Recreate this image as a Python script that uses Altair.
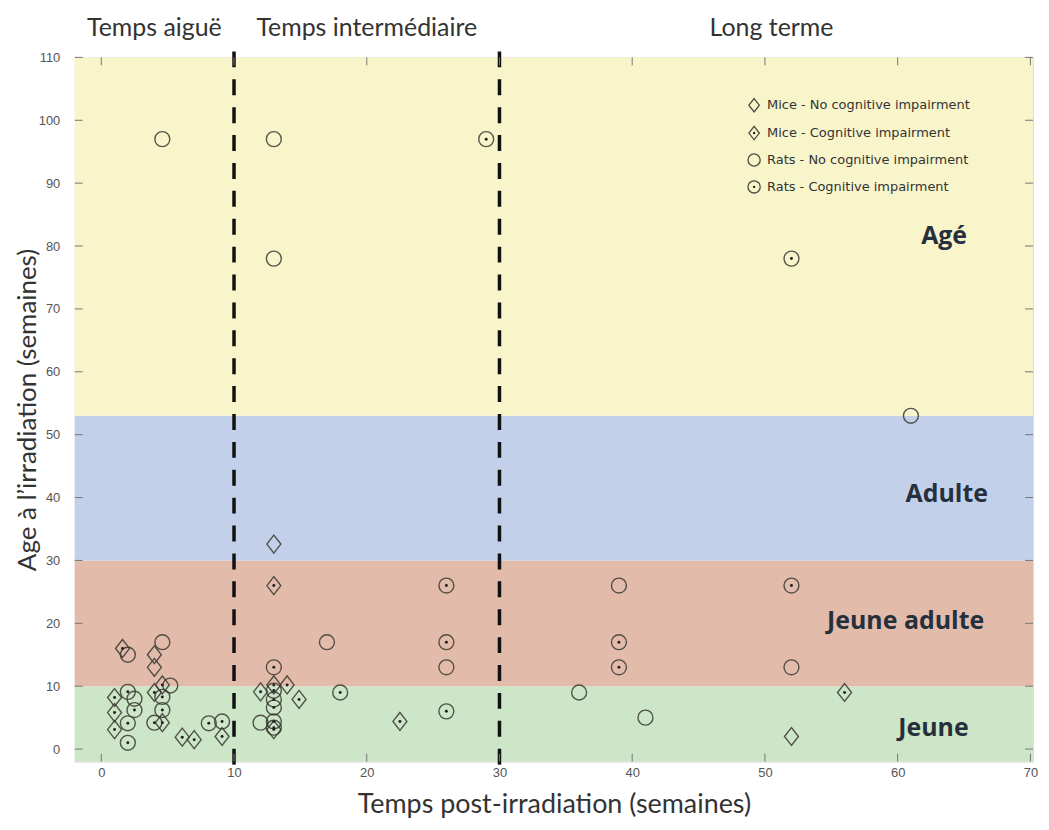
import altair as alt
import pandas as pd

# ---------------- data ----------------
# Rats - No cognitive impairment (plain circle)
rats_no_x = [4.6, 13, 13, 61, 17, 12, 26, 36, 39, 41, 52, 2.0, 4.6, 5.2, 2.5]
rats_no_y = [97, 97, 78, 53, 17, 4.2, 13, 9, 26, 5, 13, 15, 17, 10.1, 8.0]
# Rats - Cognitive impairment (circle with dot)
rats_ci_x = [29, 52, 13, 13, 13, 13, 13, 13, 18, 26, 26, 26, 39, 39, 52,
             2.0, 2.5, 2.0, 2.0, 4.6, 4.6, 4.0, 8.1, 9.1]
rats_ci_y = [97, 78, 13, 9.3, 7.9, 6.6, 4.4, 3.4, 9, 26, 17, 6, 17, 13, 26,
             9.1, 6.2, 4.1, 1.0, 8.3, 6.2, 4.2, 4.1, 4.4]
# Mice - No cognitive impairment (plain diamond)
mice_no_x = [13, 52, 4.0, 4.0]
mice_no_y = [32.6, 2, 15, 13]
# Mice - Cognitive impairment (diamond with dot)
mice_ci_x = [13, 12, 13, 14, 14.9, 13, 22.5, 56, 1.6, 4.6, 4.0, 1.0, 1.0, 1.0, 4.6, 6.1, 7.0, 9.1]
mice_ci_y = [26, 9.1, 10.2, 10.2, 7.9, 3.1, 4.4, 9, 16, 10.2, 9.0, 8.2, 5.8, 3.1, 4.2, 1.9, 1.5, 2.0]

# age bands
band_names = ["Jeune", "Jeune adulte", "Adulte", "Agé"]
band_lo = [-2, 10, 30, 53]
band_hi = [10, 30, 53, 110]
band_colors = ["#cde6c8", "#e2bbab", "#c3d0ea", "#f9f5cb"]
band_label_x = [62.7, 60.6, 63.7, 63.5]
band_label_y = [3.4, 20.3, 40.6, 81.6]

# time periods
period_names = ["Temps aiguë", "Temps intermédiaire", "Long terme"]
period_start = [-2, 10, 30]
period_end = [10, 30, 71]
period_bounds = [10, 30]

legend_labels = ["Mice - No cognitive impairment", "Mice - Cognitive impairment",
                 "Rats - No cognitive impairment", "Rats - Cognitive impairment"]
legend_species = ["mice", "mice", "rats", "rats"]
legend_impaired = [False, True, False, True]

x_ticks = [0, 10, 20, 30, 40, 50, 60, 70]
y_ticks = [0, 10, 20, 30, 40, 50, 60, 70, 80, 90, 100, 110]

# ---------------- tables ----------------
pts = pd.concat([
    pd.DataFrame({"x": rats_no_x, "y": rats_no_y, "species": "rats", "impaired": False}),
    pd.DataFrame({"x": rats_ci_x, "y": rats_ci_y, "species": "rats", "impaired": True}),
    pd.DataFrame({"x": mice_no_x, "y": mice_no_y, "species": "mice", "impaired": False}),
    pd.DataFrame({"x": mice_ci_x, "y": mice_ci_y, "species": "mice", "impaired": True}),
], ignore_index=True)

bands = pd.DataFrame({"name": band_names, "lo": band_lo, "hi": band_hi,
                      "color": band_colors, "lx": band_label_x, "ly": band_label_y})
periods = pd.DataFrame({"name": period_names,
                        "mid": [(a + b) / 2 for a, b in zip(period_start, period_end)]})
bounds = pd.DataFrame({"x": period_bounds})
xt = pd.DataFrame({"v": x_ticks})
yt = pd.DataFrame({"v": y_ticks})

W, H = 962, 707
DIAMOND = "M-0.78,0L0,-1L0.78,0L0,1Z"
STROKE = "#3a3a34"
TXT_FONT = "Lato"

xscale = alt.Scale(domain=[-2, 70.2], nice=False, zero=False)
yscale = alt.Scale(domain=[-2, 110], nice=False, zero=False)
xaxis = alt.Axis(title="Temps post-irradiation (semaines)", values=x_ticks, grid=False,
                 domain=False, ticks=False, labelPadding=5, labelFont="Liberation Sans",
                 labelFontSize=13, labelColor="#555", titleFont=TXT_FONT, titleFontSize=27,
                 titleFontWeight="normal", titleColor="#333", titleY=43,
                 titleBaseline="middle")
yaxis = alt.Axis(title="Age à l’irradiation (semaines)", values=y_ticks, grid=False,
                 domain=False, ticks=False, labelPadding=15, labelFont="Liberation Sans",
                 labelFontSize=13, labelColor="#555", titleFont=TXT_FONT, titleFontSize=26,
                 titleFontWeight="normal", titleColor="#333", titleAngle=-90,
                 titleX=-47, titleY=H / 2, titleBaseline="middle", titleAlign="center")


def X(f):
    return alt.X(f, scale=xscale, axis=xaxis)


def Y(f):
    return alt.Y(f, scale=yscale, axis=yaxis)


band_rects = alt.Chart(bands).mark_rect(stroke=None).encode(
    x=alt.value(0), x2=alt.value(W), y=Y("lo:Q"), y2="hi:Q",
    color=alt.Color("color:N", scale=None))

band_text = alt.Chart(bands).mark_text(font="Open Sans", fontWeight="bold", fontSize=25,
                                       color="#26303c", baseline="middle").encode(
    x=X("lx:Q"), y=Y("ly:Q"), text="name:N")

dash = alt.Chart(bounds).mark_rule(strokeDash=[16, 12], strokeWidth=3.5, color="#111").encode(
    x=X("x:Q"), y=alt.value(-6), y2=alt.value(H + 8))

top_text = alt.Chart(periods).mark_text(font=TXT_FONT, fontSize=25, color="#333",
                                        baseline="middle").encode(
    x=X("mid:Q"), y=alt.value(-29), text="name:N")

diamonds = alt.Chart(pts).transform_filter(alt.datum.species == "mice").mark_point(
    shape=DIAMOND, size=324, filled=False, stroke=STROKE, strokeWidth=1.4, opacity=0.85).encode(
    x=X("x:Q"), y=Y("y:Q"))
circles = alt.Chart(pts).transform_filter(alt.datum.species == "rats").mark_point(
    shape="circle", size=225, filled=False, stroke=STROKE, strokeWidth=1.4, opacity=0.85).encode(
    x=X("x:Q"), y=Y("y:Q"))
dots = alt.Chart(pts).transform_filter(alt.datum.impaired).mark_point(
    shape="circle", size=9, filled=True, color="#222", opacity=1).encode(
    x=X("x:Q"), y=Y("y:Q"))

tick_style = dict(color="#777", strokeWidth=1)
ticks_bottom = alt.Chart(xt).mark_rule(**tick_style).encode(
    x=X("v:Q"), y=alt.value(H), y2=alt.value(H - 8))
ticks_top = alt.Chart(xt).mark_rule(**tick_style).encode(
    x=X("v:Q"), y=alt.value(0), y2=alt.value(8))
ticks_left = alt.Chart(yt).mark_rule(**tick_style).encode(
    y=Y("v:Q"), x=alt.value(0), x2=alt.value(8))
ticks_right = alt.Chart(yt).mark_rule(**tick_style).encode(
    y=Y("v:Q"), x=alt.value(W), x2=alt.value(W - 8))

# legend (inside top right)
legend_layers = []
row_y = [48, 76, 103, 130]
for lab, sp, imp, ry in zip(legend_labels, legend_species, legend_impaired, row_y):
    ldf = pd.DataFrame({"label": [lab]})
    if sp == "mice":
        sym = alt.Chart(ldf).mark_point(shape=DIAMOND, size=180, filled=False, stroke=STROKE,
                                        strokeWidth=1.3, opacity=0.9)
    else:
        sym = alt.Chart(ldf).mark_point(shape="circle", size=150, filled=False, stroke=STROKE,
                                        strokeWidth=1.3, opacity=0.9)
    legend_layers.append(sym.encode(x=alt.value(682), y=alt.value(ry)))
    if imp:
        legend_layers.append(alt.Chart(ldf).mark_point(shape="circle", size=6, filled=True,
                                                       color="#222", opacity=1).encode(
            x=alt.value(682), y=alt.value(ry)))
    legend_layers.append(alt.Chart(ldf).mark_text(font="DejaVu Sans", fontSize=13,
                                                  color="#333", align="left",
                                                  baseline="middle").encode(
        x=alt.value(695), y=alt.value(ry), text="label:N"))

chart = alt.layer(
    band_rects, band_text, dash, top_text, diamonds, circles, dots,
    ticks_bottom, ticks_top, ticks_left, ticks_right, *legend_layers
).properties(
    width=W, height=H,
    autosize=alt.AutoSizeParams(type="none"),
    padding={"left": 67, "top": 48, "right": 8, "bottom": 60},
).configure_view(stroke="#777", strokeWidth=1).configure(background="white")

chart.save("out.html", embed_options={"renderer": "svg", "actions": False})
